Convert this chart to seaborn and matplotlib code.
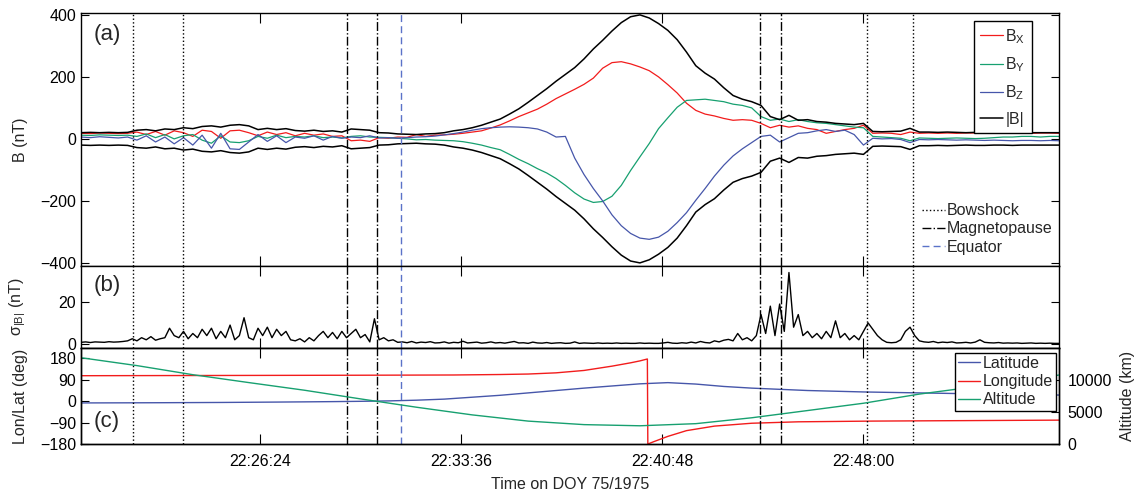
import numpy as np
import matplotlib
matplotlib.use('Agg')
from matplotlib import pyplot as plt
import seaborn as sns

# ---- data (times in seconds after 22:20:00) ----
T_START = '22:20:00'
b_step = 20          # sampling of the field components (s)
sigma_step = 10      # sampling of sigma_|B| (s)

bmag = [20, 21, 20, 21, 20, 21, 28, 30, 26, 32, 30, 36, 33, 40, 42, 38, 44, 46, 42, 30,
        34, 30, 33, 27, 25, 28, 24, 26, 22, 32, 30, 28, 20, 19, 16, 15, 14, 16, 17, 20,
        26, 30, 36, 44, 54, 64, 80, 97, 118, 140, 162, 186, 208, 230, 258, 290, 318, 348, 375, 394,
        400, 390, 372, 350, 320, 280, 236, 212, 193, 165, 140, 128, 120, 108, 72, 62, 76, 60, 62, 56,
        54, 50, 48, 46, 50, 24, 23, 24, 25, 34, 22, 22, 21, 22, 21, 20, 21, 21, 20, 20,
        21, 20, 20, 20, 20, 20]
bx = [18, 17, 19, 18, 17, 18, 22, 14, 24, 12, 26, 20, 8, 28, 24, 2, 26, 28, 20, 10,
      22, 14, 20, 10, 18, 12, 16, 8, 10, -6, -4, -8, 4, 2, 6, 5, 14, 8, 12, 13,
      15, 18, 22, 26, 35, 45, 58, 72, 84, 96, 112, 130, 145, 160, 176, 196, 228, 246, 249, 242,
      232, 220, 200, 175, 148, 115, 92, 80, 74, 66, 60, 62, 60, 50, 36, 44, 38, 42, 34, 30,
      18, 24, 30, 34, 44, 18, 19, 18, 14, 22, 18, 19, 18, 19, 18, 19, 19, 18, 19, 18,
      19, 19, 18, 19, 19, 18]
by = [12, 11, 13, 12, 11, 12, 8, 16, 4, 14, 0, 10, 14, -4, -14, 10, -10, -12, -6, 8,
      2, 12, 4, 8, 6, 10, 4, 6, 3, 8, 10, 6, 5, 4, 2, 0, -3, -2, -4, -5,
      -6, -9, -14, -20, -28, -35, -50, -66, -80, -96, -110, -128, -150, -174, -194, -205, -202, -185, -150, -102,
      -58, -15, 33, 68, 102, 124, 126, 128, 124, 120, 112, 108, 100, 72, 60, 64, 56, 62, 56, 52,
      50, 46, 42, 38, 36, 8, 6, 4, 2, -6, 3, 2, 1, 2, 3, 2, 1, 2, 4, 6,
      6, 8, 8, 6, 8, 8]
bz = [6, 4, 7, 5, 3, 6, -4, 10, -10, 6, -16, 4, -20, 12, -30, 18, -32, -34, -10, 14,
      -8, 10, -12, 6, 2, 10, -4, 8, 2, 6, 4, 10, 3, 4, 2, 4, 6, 7, 9, 13,
      17, 22, 28, 33, 36, 38, 39, 38, 36, 32, 22, 6, 8, -62, -115, -160, -200, -245, -280, -305,
      -320, -324, -317, -298, -270, -238, -198, -160, -120, -85, -55, -32, -12, 8, 12, -10, 4, 18, 20, 26,
      30, 24, 28, 14, -20, 2, 0, 1, -2, -12, -2, -3, -2, -3, -4, -3, -4, -5, -4, -5,
      -6, -5, -5, -6, -5, -6]

sigma_b = [0.8, 1.0, 0.7, 1.0, 0.9, 0.8, 1.1, 0.9, 1.0, 1.2, 1.5,
           2.5, 1.5, 3.0, 2.0, 3.5, 1.8, 2.5, 3.0, 7.5, 4.0,
           3.0, 6.0, 2.5, 5.0, 3.0, 7.0, 4.0, 7.5, 2.5, 6.0,
           3.0, 9.0, 2.0, 4.0, 12.5, 3.0, 2.0, 7.5, 4.0, 8.0,
           3.0, 7.0, 4.0, 6.0, 2.0, 1.5, 2.5, 1.0, 3.0, 1.5,
           4.0, 6.0, 3.0, 5.5, 2.5, 6.0, 3.0, 5.0, 7.0, 3.0,
           4.5, 1.0, 12.0, 2.0, 3.0, 1.5, 2.0, 0.8, 1.0, 0.6,
           1.2, 0.5, 0.9, 0.7, 1.1, 0.5, 0.6, 1.0, 0.4, 0.8,
           0.6, 1.3, 0.5, 0.7, 0.9, 0.4, 0.6, 1.0, 0.5, 0.7,
           0.4, 0.8, 1.2, 0.5, 0.6, 0.3, 0.9, 0.5, 0.4, 0.7,
           0.3, 0.5, 0.6, 0.3, 0.4, 1.0, 0.3, 0.5, 0.4, 0.3,
           0.5, 0.3, 0.4, 0.3, 0.5, 0.3, 0.4, 0.3, 0.3, 0.5,
           0.3, 0.4, 0.3, 0.3, 0.5, 0.8, 0.4, 0.3, 0.6, 0.4,
           0.9, 0.5, 1.2, 0.7, 0.5, 1.5, 1.0, 1.8, 2.2, 1.5,
           5.0, 2.0, 3.0, 1.5, 4.0, 14.0, 5.0, 18.0, 4.0, 19.0,
           6.0, 34.0, 8.0, 14.0, 4.0, 6.0, 3.0, 5.0, 2.5, 6.0,
           3.0, 11.0, 3.0, 5.0, 2.0, 4.0, 2.0, 6.0, 10.0, 7.0,
           4.0, 2.0, 0.8, 0.6, 0.8, 2.0, 6.0, 8.0, 4.0, 1.5,
           1.0, 0.8, 1.2, 0.6, 0.9, 0.7, 1.0, 0.5, 0.6, 0.8,
           0.5, 0.9, 2.0, 0.8, 0.6, 0.5, 0.7, 0.4, 0.5, 0.4,
           0.5, 0.3, 0.4, 0.5, 0.3, 0.4, 0.3, 0.4, 0.3, 0.3]

lat_time = [0, 60, 120, 180, 240, 300, 360, 420, 480, 540, 600, 660, 720, 780, 840, 900, 960, 1020,
            1080, 1140, 1200, 1260, 1320, 1380, 1440, 1500, 1560, 1620, 1680, 1740, 1800, 1860,
            1920, 1980, 2040, 2100]
latitude = [-8, -7.7, -7.4, -7, -6.5, -6, -5.2, -4.4, -3.5, -2.5, -1.2, 0.5, 3.5, 8, 16, 24, 34, 44,
            54, 63, 72, 77, 71, 61, 54, 49, 44, 41, 38, 36, 34, 32, 30, 28, 26.5, 25]
lon_time = [0, 300, 600, 800, 900, 960, 1020, 1080, 1140, 1180, 1200, 1216, 1217,
            1230, 1260, 1300, 1360, 1440, 1540, 1700, 1900, 2100]
longitude = [106, 107, 108, 109, 111, 113, 118, 128, 146, 160, 168, 176, -180,
             -170, -148, -124, -105, -93, -87, -84, -82, -80]
alt_time = [0, 120, 240, 360, 480, 600, 720, 840, 960, 1080, 1200, 1320, 1440, 1560, 1680,
            1800, 1920, 2040, 2100]
altitude = [13480, 12250, 10830, 9600, 8400, 7050, 5750, 4550, 3580, 3030, 2850, 3180, 4100,
            5230, 6370, 7800, 8950, 10150, 10780]

bowshock = ['22:21:52', '22:23:39', '22:48:08', '22:49:47']
magnetopause = ['22:29:31', '22:30:36', '22:44:18', '22:45:03']
equator = ['22:31:27']
tick_labels = ['22:26:24', '22:33:36', '22:40:48', '22:48:00']


def to_sec(s):
    h, m, sec = (int(v) for v in s.split(':'))
    return h * 3600 + m * 60 + sec


def rel(s):
    return to_sec(s) - to_sec(T_START)


t_b = np.arange(len(bmag)) * b_step
t_sigma = np.arange(len(sigma_b)) * sigma_step

RED = '#f21c1c'
GREEN = '#17a070'
BLUE = '#4656aa'
EQ_BLUE = '#5b72c8'

sns.set_style('ticks')
plt.rcParams['font.family'] = ['Liberation Sans', 'DejaVu Sans']
plt.rcParams.update({
    'mathtext.fontset': 'custom',
    'mathtext.rm': 'Liberation Sans',
    'axes.linewidth': 1.0,
    'axes.edgecolor': 'black',
    'xtick.direction': 'in',
    'ytick.direction': 'in',
    'xtick.major.size': 7,
    'ytick.major.size': 6,
    'xtick.color': 'black',
    'ytick.color': 'black',
    'xtick.labelsize': 11.5,
    'ytick.labelsize': 11.5,
    'axes.labelsize': 11.5,
    'legend.fontsize': 11.5,
})


def trace(ax, x, y, color, lw=0.9, label=None):
    sns.lineplot(x=x, y=y, ax=ax, color=color, lw=lw, estimator=None,
                 sort=False, legend=False)
    line = ax.lines[-1]
    if label:
        line.set_label(label)
    return line


fig = plt.figure(figsize=(11.35, 4.97), dpi=100)
L, W = 0.0714, 0.8617
ax_a = fig.add_axes([L, 0.4648, W, 0.5090])
ax_b = fig.add_axes([L, 0.2998, W, 0.1650])
ax_c = fig.add_axes([L, 0.1066, W, 0.1932])

# ---- (a) magnetic field ----
h_bx = trace(ax_a, t_b, bx, RED, label=r'B$_\mathregular{X}$')
h_by = trace(ax_a, t_b, by, GREEN, label=r'B$_\mathregular{Y}$')
h_bz = trace(ax_a, t_b, bz, BLUE, label=r'B$_\mathregular{Z}$')
h_bm = trace(ax_a, t_b, bmag, 'black', lw=1.1, label='|B|')
trace(ax_a, t_b, -np.array(bmag), 'black', lw=1.1)
ax_a.set_ylim(-410, 406)
ax_a.set_yticks([-400, -200, 0, 200, 400])
ax_a.set_ylabel('B (nT)')

# ---- (b) sigma |B| ----
trace(ax_b, t_sigma, sigma_b, 'black', lw=1.0)
ax_b.set_ylim(-1.9, 37.1)
ax_b.set_yticks([0, 20])
ax_b.set_ylabel('σ$_\\mathregular{|B|}$ (nT)')

# ---- (c) position ----
h_lat = trace(ax_c, lat_time, latitude, BLUE, lw=1.0, label='Latitude')
h_lon = trace(ax_c, lon_time, longitude, RED, lw=1.0, label='Longitude')
ax_c.set_ylim(-180, 222)
ax_c.set_yticks([-180, -90, 0, 90, 180])
ax_c.set_ylabel('Lon/Lat (deg)')
ax_r = ax_c.twinx()
h_alt = trace(ax_r, alt_time, altitude, GREEN, lw=1.0, label='Altitude')
ax_r.set_ylim(0, 15000)
ax_r.set_yticks([0, 5000, 10000])
ax_r.tick_params(axis='y', direction='in', length=6, labelsize=11.5, pad=6)
ax_r.set_ylabel('Altitude (km)')
ax_r.yaxis.set_label_coords(1.062, 0.5)

# ---- event lines, ticks ----
xt = [rel(s) for s in tick_labels]
for ax in (ax_a, ax_b, ax_c):
    for s in bowshock:
        ax.axvline(rel(s), color='black', ls=':', lw=1.0)
    for s in magnetopause:
        ax.axvline(rel(s), color='black', ls='-.', lw=1.0)
    for s in equator:
        ax.axvline(rel(s), color=EQ_BLUE, ls=(0, (5, 3)), lw=1.0)
    ax.set_xlim(0, 2100)
    ax.set_xticks(xt)
    ax.tick_params(axis='x', top=True, bottom=True, length=7)
    ax.tick_params(axis='y', right=(ax is not ax_c), left=True)
    ax.yaxis.set_label_coords(-0.054, 0.5)
    ax.set_xlabel('')
ax_a.set_xticklabels([])
ax_b.set_xticklabels([])
ax_c.set_xticklabels(tick_labels)
ax_c.tick_params(axis='x', pad=7)
ax_c.set_xlabel('Time on DOY 75/1975', labelpad=6)

for ax, tag, y in ((ax_a, '(a)', 0.955), (ax_b, '(b)', 0.89), (ax_c, '(c)', 0.34)):
    ax.text(0.013, y, tag, transform=ax.transAxes, fontsize=16, va='top', ha='left')

# ---- legends ----
leg1 = ax_a.legend(handles=[h_bx, h_by, h_bz, h_bm], loc='upper right',
                   bbox_to_anchor=(0.972, 0.97), borderaxespad=0, fancybox=False,
                   edgecolor='black', framealpha=1, handlelength=1.4,
                   handletextpad=0.15, labelspacing=0.6, borderpad=0.4)
leg1.get_frame().set_linewidth(1.0)
ax_a.add_artist(leg1)
ev_handles = [
    plt.Line2D([], [], color='black', ls=':', lw=1.0, label='Bowshock'),
    plt.Line2D([], [], color='black', ls='-.', lw=1.0, label='Magnetopause'),
    plt.Line2D([], [], color=EQ_BLUE, ls=(0, (5, 3)), lw=1.0, label='Equator'),
]
ax_a.legend(handles=ev_handles, loc='lower right', bbox_to_anchor=(1.0, 0.02),
            borderaxespad=0, frameon=False, handlelength=1.4, handletextpad=0.15,
            labelspacing=0.2)

leg3 = ax_r.legend(handles=[h_lat, h_lon, h_alt], loc='upper right',
                   bbox_to_anchor=(0.997, 0.95), borderaxespad=0, fancybox=False,
                   edgecolor='black', framealpha=1, handlelength=1.4,
                   handletextpad=0.15, labelspacing=0.2, borderpad=0.2)
leg3.get_frame().set_linewidth(1.0)

fig.savefig('out.png', dpi=100)
